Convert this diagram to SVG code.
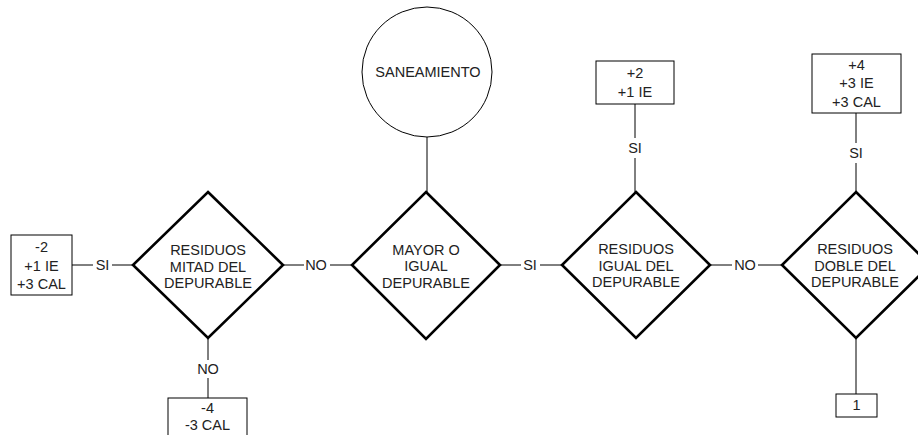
<svg xmlns="http://www.w3.org/2000/svg" width="918" height="435" viewBox="0 0 918 435">
  <style>
    .diamond { fill: #fff; stroke: #000; stroke-width: 2.6; stroke-linejoin: miter; }
    .box { fill: #fff; stroke: #000; stroke-width: 1; }
    .circle { fill: #fff; stroke: #000; stroke-width: 1; }
    .wire { stroke: #000; stroke-width: 1; fill: none; }
    text { font-family: "Liberation Sans", Arial, sans-serif; font-size: 14.5px; fill: #222; text-anchor: middle; }
  </style>
  <rect width="918" height="435" fill="#fff"/>

  <!-- connectors, broken where a label sits -->
  <g id="connectors">
    <!-- D1 left: SI to result box -->
    <line class="wire" x1="72" y1="265" x2="93" y2="265"/>
    <line class="wire" x1="112" y1="265" x2="133" y2="265"/>
    <text x="102.5" y="270">SI</text>
    <!-- D1 bottom: NO to result box -->
    <line class="wire" x1="208" y1="338" x2="208" y2="360"/>
    <line class="wire" x1="208" y1="378" x2="208" y2="398"/>
    <text x="208" y="374">NO</text>
    <!-- D1 right to D2 left: NO -->
    <line class="wire" x1="283" y1="265" x2="304" y2="265"/>
    <line class="wire" x1="330" y1="265" x2="352" y2="265"/>
    <text x="316" y="270">NO</text>
    <!-- circle to D2 -->
    <line class="wire" x1="427" y1="137" x2="427" y2="192"/>
    <!-- D2 right to D3 left: SI -->
    <line class="wire" x1="500" y1="265" x2="521" y2="265"/>
    <line class="wire" x1="540" y1="265" x2="562" y2="265"/>
    <text x="530" y="270">SI</text>
    <!-- D3 top: SI to result box -->
    <line class="wire" x1="635" y1="104" x2="635" y2="138"/>
    <line class="wire" x1="635" y1="158" x2="635" y2="192"/>
    <text x="635" y="153">SI</text>
    <!-- D3 right to D4 left: NO -->
    <line class="wire" x1="710" y1="265" x2="732" y2="265"/>
    <line class="wire" x1="758" y1="265" x2="782" y2="265"/>
    <text x="745" y="270">NO</text>
    <!-- D4 top: SI to result box -->
    <line class="wire" x1="856" y1="113" x2="856" y2="143"/>
    <line class="wire" x1="856" y1="163" x2="856" y2="192"/>
    <text x="856" y="158">SI</text>
    <!-- D4 bottom to box 1 -->
    <line class="wire" x1="856" y1="338" x2="856" y2="394"/>
  </g>

  <g id="saneamiento">
    <circle class="circle" cx="427" cy="72" r="65"/>
    <text x="428" y="77">SANEAMIENTO</text>
  </g>

  <g id="d-mitad">
    <polygon class="diamond" points="208,192 283,265 208,338 133,265"/>
    <text x="208" y="255">RESIDUOS</text>
    <text x="208" y="272">MITAD DEL</text>
    <text x="208" y="288">DEPURABLE</text>
  </g>

  <g id="d-mayor">
    <polygon class="diamond" points="426,192 500,265 426,339 352,265"/>
    <text x="426" y="255">MAYOR O</text>
    <text x="426" y="271">IGUAL</text>
    <text x="426" y="288">DEPURABLE</text>
  </g>

  <g id="d-igual">
    <polygon class="diamond" points="636,192 710,265 636,338 562,265"/>
    <text x="636" y="254">RESIDUOS</text>
    <text x="636" y="271">IGUAL DEL</text>
    <text x="636" y="287">DEPURABLE</text>
  </g>

  <g id="d-doble">
    <polygon class="diamond" points="856,192 930,265 856,338 782,265"/>
    <text x="855" y="254">RESIDUOS</text>
    <text x="855" y="271">DOBLE DEL</text>
    <text x="855" y="287">DEPURABLE</text>
  </g>

  <g id="r-mitad-si">
    <rect class="box" x="11" y="235" width="61" height="60"/>
    <text x="41.5" y="252">-2</text>
    <text x="41.5" y="271">+1 IE</text>
    <text x="41.5" y="289">+3 CAL</text>
  </g>

  <g id="r-mitad-no">
    <rect class="box" x="168" y="398" width="79" height="45"/>
    <text x="207.5" y="413">-4</text>
    <text x="207.5" y="430">-3 CAL</text>
  </g>

  <g id="r-igual-si">
    <rect class="box" x="596" y="61" width="78" height="43"/>
    <text x="635" y="78">+2</text>
    <text x="635" y="97">+1 IE</text>
  </g>

  <g id="r-doble-si">
    <rect class="box" x="812" y="54" width="89" height="59"/>
    <text x="856.5" y="70">+4</text>
    <text x="856.5" y="88">+3 IE</text>
    <text x="856.5" y="107">+3 CAL</text>
  </g>

  <g id="r-doble-no">
    <rect class="box" x="836" y="394" width="41" height="23"/>
    <text x="856.5" y="410">1</text>
  </g>
</svg>
